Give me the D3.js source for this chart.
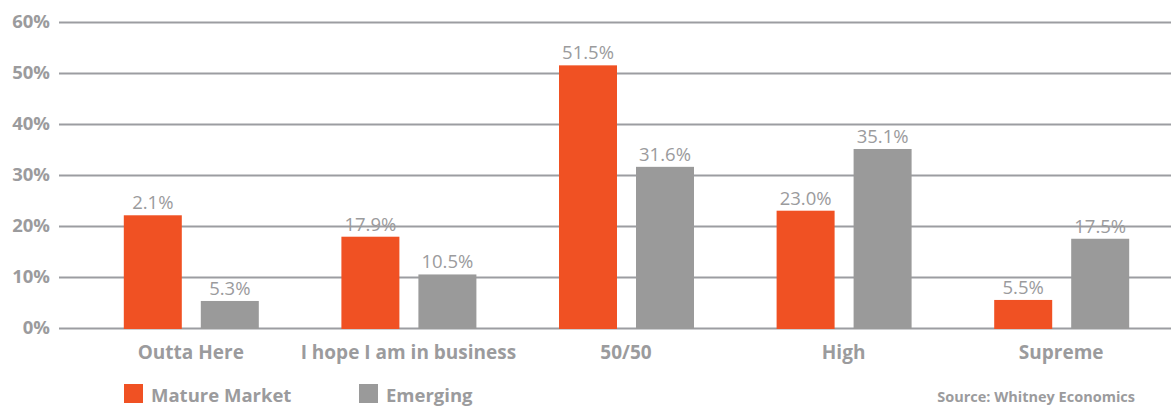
<!DOCTYPE html>
<html>
<head>
<meta charset="utf-8">
<script src="https://cdn.jsdelivr.net/npm/d3@7"></script>
<style>
  html, body { margin: 0; padding: 0; background: #fff; }
  svg { display: block; font-family: "Open Sans", Lato, sans-serif; }
</style>
</head>
<body>
<svg id="chart" width="1171" height="408"></svg>
<script>
// Survey outcome categories
const categories = ["Outta Here", "I hope I am in business", "50/50", "High", "Supreme"];
// Percent values per series
const matureValues = [22.1, 17.9, 51.5, 23.0, 5.5];
const emergingValues = [5.3, 10.5, 31.6, 35.1, 17.5];
// Printed value labels
const matureLabels = ["2.1%", "17.9%", "51.5%", "23.0%", "5.5%"];
const emergingLabels = ["5.3%", "10.5%", "31.6%", "35.1%", "17.5%"];
// Y axis ticks
const yTicks = [0, 10, 20, 30, 40, 50, 60];
const seriesNames = ["Mature Market", "Emerging"];

const ORANGE = "#f05123";
const GRAY = "#9a9a9a";
const TEXT = "#9b9b9d";
const GRID = "#9c9da1";
const FONT = "'Open Sans', Lato, sans-serif";

const svg = d3.select("#chart");

const x0 = d3.scaleBand().domain(categories).range([82, 1170]).paddingInner(0).paddingOuter(0);
const y = d3.scaleLinear().domain([0, 60]).range([328, 22]);

// Gridlines + tick labels
const yAxis = d3.axisLeft(y).tickValues(yTicks).tickFormat(d => d + "%").tickSize(-(1171 - 59)).tickPadding(9);
const gy = svg.append("g").attr("transform", "translate(59,0)").call(yAxis);
gy.select(".domain").remove();
gy.selectAll(".tick line").attr("stroke", GRID).attr("stroke-width", 2.2);
gy.selectAll(".tick text")
  .attr("fill", TEXT).attr("font-size", 18.5).attr("font-weight", 700)
  .attr("font-family", FONT);

const rows = categories.map((c, i) => ({
  cat: c,
  vals: [
    { s: seriesNames[0], v: matureValues[i], label: matureLabels[i], color: ORANGE },
    { s: seriesNames[1], v: emergingValues[i], label: emergingLabels[i], color: GRAY }
  ]
}));

const barW = 58;
const offsets = { "Mature Market": -67, "Emerging": 10 };

const groups = svg.append("g").selectAll("g").data(rows).join("g")
  .attr("transform", d => `translate(${x0(d.cat) + x0.bandwidth() / 2},0)`);

groups.selectAll("rect").data(d => d.vals).join("rect")
  .attr("x", d => offsets[d.s])
  .attr("width", barW)
  .attr("y", d => y(d.v))
  .attr("height", d => y(0) - y(d.v) + 1)
  .attr("fill", d => d.color);

groups.selectAll("text.val").data(d => d.vals).join("text")
  .attr("class", "val")
  .attr("x", d => offsets[d.s] + barW / 2)
  .attr("y", d => y(d.v) - 6)
  .attr("text-anchor", "middle")
  .attr("fill", TEXT)
  .attr("font-size", 18.5)
  .attr("font-weight", 400)
  .text(d => d.label);

// Category labels
groups.append("text")
  .attr("x", 0)
  .attr("y", 359)
  .attr("text-anchor", "middle")
  .attr("fill", TEXT)
  .attr("font-size", 19)
  .attr("font-weight", 700)
  .text(d => d.cat);

// Legend
const legendX = [124, 359];
const legend = svg.append("g").selectAll("g").data(seriesNames).join("g")
  .attr("transform", (d, i) => `translate(${legendX[i]},384)`);
legend.append("rect").attr("width", 19).attr("height", 19)
  .attr("fill", (d, i) => i === 0 ? ORANGE : GRAY);
legend.append("text").attr("x", 27).attr("y", 18)
  .attr("fill", TEXT).attr("font-size", 18.5).attr("font-weight", 700)
  .text(d => d);

// Source note
svg.append("text")
  .attr("x", 1135).attr("y", 402)
  .attr("text-anchor", "end")
  .attr("fill", TEXT).attr("font-size", 14.5).attr("font-weight", 700)
  .text("Source: Whitney Economics");
</script>
</body>
</html>
